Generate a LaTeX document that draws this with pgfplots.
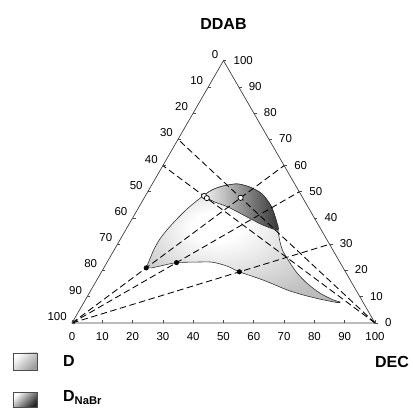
\documentclass[border=0pt]{standalone}
\usepackage{fontspec}
\setmainfont{Liberation Sans}
\usepackage{pgfplots}
\usepackage{pgfplotstable}
\pgfplotsset{compat=1.18}
\pgfplotsset{table/tern/.style={x expr=\thisrow{e}+0.5*\thisrow{d}, y expr=0.8660254*\thisrow{d}}}
\pgfdeclareradialshading{dshade}{\pgfpoint{-8bp}{8bp}}{color(0bp)=(white); color(6bp)=(white); color(28bp)=(black!24); color(50bp)=(black!36)}

% region D (DEC = e, DDAB = d, in %)
\pgfplotstableread{
e d
14.0 21.0
13.5 24.4
13.0 28.2
13.0 32.0
13.6 35.4
14.7 39.3
16.4 43.8
19.0 48.4
20.9 50.7
23.7 52.2
28.0 53.0
32.8 51.8
38.1 49.2
43.4 44.6
47.7 39.3
50.7 34.7
53.2 30.9
55.9 27.4
60.5 22.9
64.7 19.1
69.9 15.2
76.1 11.4
81.8 8.8
84.5 8.0
83.6 7.8
77.3 9.1
70.9 10.7
64.7 12.6
54.8 16.4
45.5 19.5
40.3 21.7
34.6 23.2
29.0 23.2
23.0 23.0
18.2 21.7
15.9 21.0
}\regionD

% region D_NaBr
\pgfplotstableread{
e d
19.0 48.4
20.9 50.7
23.7 52.2
28.0 53.0
32.8 51.8
38.1 49.2
43.4 44.6
47.7 39.3
50.3 35.4
44.4 37.3
37.6 40.4
29.4 44.2
24.1 46.1
19.9 48.0
}\regionN

\pgfplotstableread{
e d
14.0 21.0
23.0 23.0
45.5 19.5
}\filled

\pgfplotstableread{
e d
19.4 48.4
20.7 47.6
31.8 47.7
}\opencirc

\begin{document}
\begin{tikzpicture}
\begin{axis}[x=3.03pt, y=3.03pt, hide axis, clip=false,
  xmin=0, xmax=100, ymin=0, ymax=86.6]
% regions
\addplot[draw=black!80, line width=0.6pt, smooth, tension=0.45,
  shading=dshade] table[tern] {\regionD} -- cycle;
\addplot[draw=black!80, line width=0.6pt, smooth, tension=0.45,
  left color=black!4, right color=black!80] table[tern] {\regionN} -- cycle;
% triangle
\addplot[draw=black!75, line width=0.7pt] table[tern] {
e d
0 0
100 0
0 100
0 0
};
% dashed lines
\addplot[black, line width=0.85pt, dash pattern=on 6.5pt off 3.5pt] table[tern] {
e d
0 0
40 60
};
\addplot[black, line width=0.85pt, dash pattern=on 6.5pt off 3.5pt] table[tern] {
e d
0 0
50 50
};
\addplot[black, line width=0.85pt, dash pattern=on 6.5pt off 3.5pt] table[tern] {
e d
0 0
70 30
};
\addplot[black, line width=0.85pt, dash pattern=on 6.5pt off 3.5pt] table[tern] {
e d
100 0
0 70
};
\addplot[black, line width=0.85pt, dash pattern=on 6.5pt off 3.5pt] table[tern] {
e d
100 0
0 60
};
% points
\addplot[only marks, mark=*, mark size=2.3pt, black] table[tern] {\filled};
\addplot[only marks, mark=*, mark size=2.6pt, mark options={fill=white, draw=black, line width=0.7pt}] table[tern] {\opencirc};
% ticks and labels
\pgfplotsinvokeforeach{0,10,...,100}{
  \draw[black!70, line width=0.6pt] (axis cs:#1,0) -- ++(0,3pt);
  \draw[black!70, line width=0.6pt] (axis cs:{50-0.5*#1},{0.8660254*(100-#1)}) -- ++(3pt,0);
  \draw[black!70, line width=0.6pt] (axis cs:{100-0.5*#1},{0.8660254*#1}) -- ++(3pt,0);
  \node[anchor=north, inner sep=0pt, yshift=-9pt, font=\fontsize{11.5}{13}\selectfont] at (axis cs:#1,0) {#1};
  \node[anchor=east, inner sep=0pt, xshift=-5pt, yshift=6.5pt, font=\fontsize{11.5}{13}\selectfont] at (axis cs:{50-0.5*#1},{0.8660254*(100-#1)}) {#1};
  \node[anchor=west, inner sep=0pt, xshift=10pt, yshift=0.5pt, font=\fontsize{11.5}{13}\selectfont] at (axis cs:{100-0.5*#1},{0.8660254*#1}) {#1};
}
% titles
\node[font=\bfseries\fontsize{16}{19}\selectfont] at (axis cs:50,98.6) {DDAB};
\node[font=\bfseries\fontsize{16}{19}\selectfont] at (axis cs:105.6,-12.9) {DEC};
% legend
\draw[draw=black!70, line width=0.6pt, top color=white, bottom color=black!38, shading angle=45]
  (axis cs:-19.5,-9.9) rectangle (axis cs:-11.6,-15.5);
\draw[draw=black!70, line width=0.6pt, top color=white, bottom color=black!85, shading angle=45]
  (axis cs:-19.5,-22.8) rectangle (axis cs:-11.6,-27.9);
\node[anchor=base west, inner sep=0pt, font=\bfseries\fontsize{16}{19}\selectfont] at (axis cs:-2.97,-14.5) {D};
\node[anchor=base west, inner sep=0pt, font=\bfseries\fontsize{16}{19}\selectfont] at (axis cs:-2.97,-26.0) {D\textsubscript{NaBr}};
\coordinate (bbSW) at (axis cs:-23.76,-28.05);
\coordinate (bbNE) at (axis cs:112.54,106.6);
\end{axis}
\pgfresetboundingbox
\useasboundingbox (bbSW) rectangle (bbNE);
\end{tikzpicture}
\end{document}
